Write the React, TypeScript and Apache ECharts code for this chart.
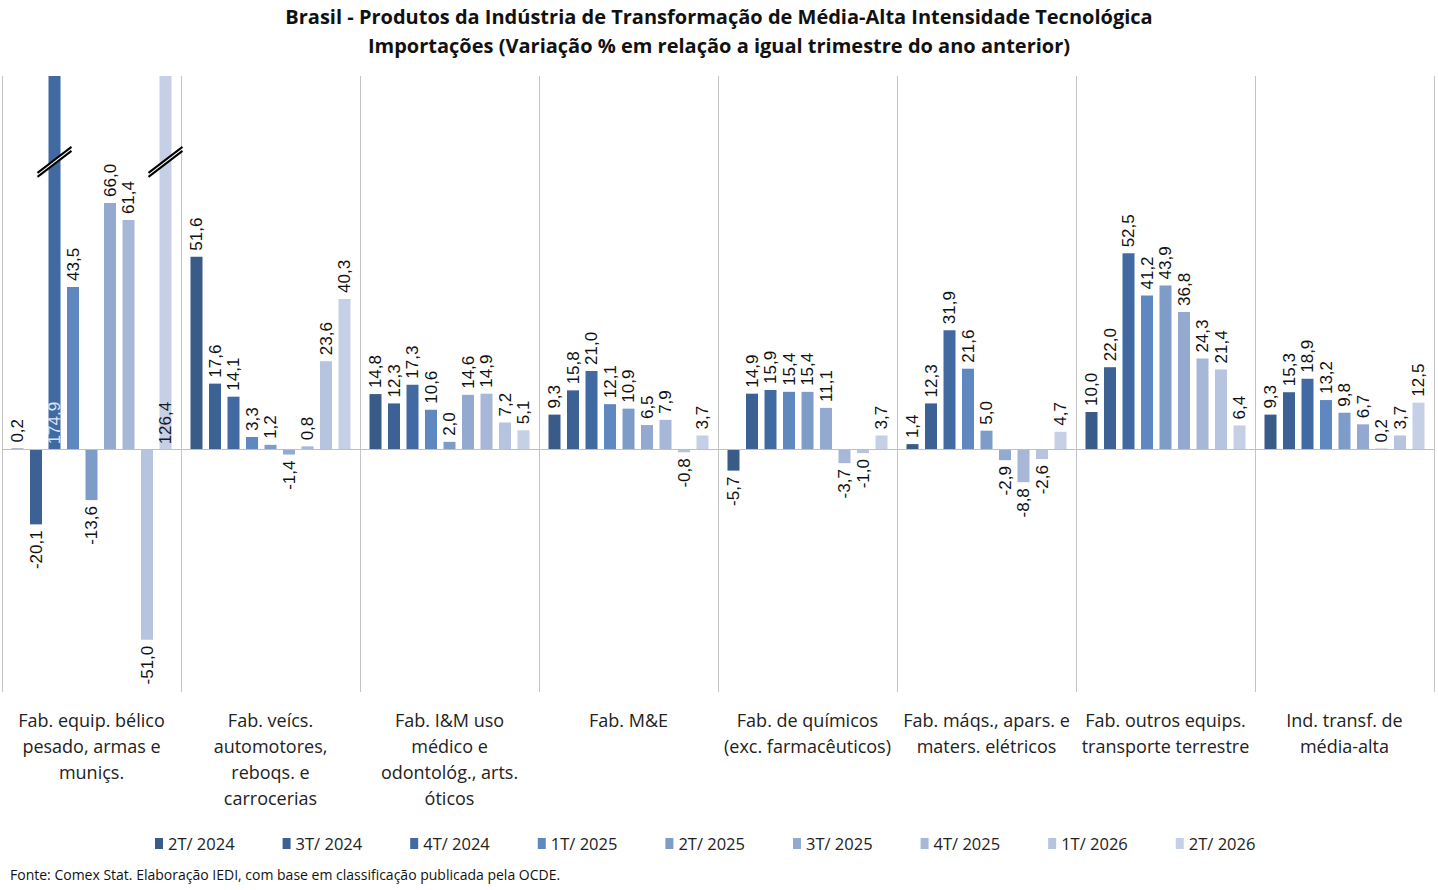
import React, { useEffect, useRef } from "react";
import * as echarts from "echarts";

const categories = [
  "Fab. equip. bélico\npesado, armas e\nmuniçs.",
  "Fab. veícs.\nautomotores,\nreboqs. e\ncarrocerias",
  "Fab. I&M uso\nmédico e\nodontológ., arts.\nóticos",
  "Fab. M&E",
  "Fab. de químicos\n(exc. farmacêuticos)",
  "Fab. máqs., apars. e\nmaters. elétricos",
  "Fab. outros equips.\ntransporte terrestre",
  "Ind. transf. de\nmédia-alta",
];

const seriesNames = [
  "2T/ 2024",
  "3T/ 2024",
  "4T/ 2024",
  "1T/ 2025",
  "2T/ 2025",
  "3T/ 2025",
  "4T/ 2025",
  "1T/ 2026",
  "2T/ 2026",
];

const q2_2024 = [0.2, 51.6, 14.8, 9.3, -5.7, 1.4, 10.0, 9.3];
const q3_2024 = [-20.1, 17.6, 12.3, 15.8, 14.9, 12.3, 22.0, 15.3];
const q4_2024 = [174.9, 14.1, 17.3, 21.0, 15.9, 31.9, 52.5, 18.9];
const q1_2025 = [43.5, 3.3, 10.6, 12.1, 15.4, 21.6, 41.2, 13.2];
const q2_2025 = [-13.6, 1.2, 2.0, 10.9, 15.4, 5.0, 43.9, 9.8];
const q3_2025 = [66.0, -1.4, 14.6, 6.5, 11.1, -2.9, 36.8, 6.7];
const q4_2025 = [61.4, 0.8, 14.9, 7.9, -3.7, -8.8, 24.3, 0.2];
const q1_2026 = [-51.0, 23.6, 7.2, -0.8, -1.0, -2.6, 21.4, 3.7];
const q2_2026 = [126.4, 40.3, 5.1, 3.7, 3.7, 4.7, 6.4, 12.5];

const seriesValues = [q2_2024, q3_2024, q4_2024, q1_2025, q2_2025, q3_2025, q4_2025, q1_2026, q2_2026];

const colors = [
  "#385b87",
  "#3c6295",
  "#416aa3",
  "#5f88c1",
  "#7e9cc8",
  "#94a9d0",
  "#a7b7d8",
  "#b7c4e0",
  "#c5cfe5",
];

const Y_MIN = -65;
const Y_MAX = 100;

const TITLE_1 = "Brasil - Produtos da Indústria de Transformação de Média-Alta Intensidade Tecnológica";
const TITLE_2 = "Importações (Variação % em relação a igual trimestre do ano anterior)";
const SOURCE = "Fonte: Comex Stat. Elaboração IEDI, com base em classificação publicada pela OCDE.";

const FONT = "'Open Sans', 'Noto Sans', sans-serif";
const LABEL_FONT = "'Liberation Sans', Arial, sans-serif";

const BAR_WIDTH = 12;
const BAR_GAP_PX = 6.5;

const fmt = (v: number) => v.toFixed(1).replace(".", ",");

export default function App() {
  const ref = useRef<HTMLDivElement>(null);

  useEffect(() => {
    if (!ref.current) return;
    const chart = echarts.init(ref.current, undefined, { renderer: "svg" });

    const series = seriesValues.map((vals, si) => ({
      name: seriesNames[si],
      type: "bar",
      barWidth: BAR_WIDTH,
      barGap: `${(BAR_GAP_PX / BAR_WIDTH) * 100}%`,
      clip: true,
      itemStyle: { color: colors[si] },
      data: vals.map((v) => {
        const clipped = v > Y_MAX;
        return {
          value: v,
          label: clipped
            ? {
                position: "insideBottom",
                align: "left",
                verticalAlign: "middle",
                distance: 5,
                color: si < 4 ? "#dde5f1" : "#1a1a1a",
              }
            : v < 0
            ? { position: "bottom", align: "right", verticalAlign: "middle", distance: 6 }
            : { position: "top", align: "left", verticalAlign: "middle", distance: 6 },
        };
      }),
      label: {
        show: true,
        rotate: 90,
        fontSize: 17,
        fontFamily: LABEL_FONT,
        color: "#111",
        formatter: (p: any) => fmt(p.value),
      },
      markLine:
        si === 0
          ? {
              silent: true,
              symbol: "none",
              label: { show: false },
              lineStyle: { color: "#bfbfbf", width: 1, type: "solid" },
              data: [{ yAxis: 0 }],
            }
          : undefined,
    }));

    const baseGraphic: any[] = [
      {
        type: "text",
        left: "center",
        top: 6,
        style: { text: TITLE_1, font: `bold 20px ${FONT}`, fill: "#111" },
      },
      {
        type: "text",
        left: "center",
        top: 35,
        style: { text: TITLE_2, font: `bold 20px ${FONT}`, fill: "#111" },
      },
      {
        type: "text",
        left: 10,
        top: 867,
        style: { text: SOURCE, font: `14px ${FONT}`, fill: "#111" },
      },
    ];

    chart.setOption({
      animation: false,
      backgroundColor: "#ffffff",
      color: colors,
      grid: { left: 2, right: 4, top: 76, bottom: 198, containLabel: false },
      legend: {
        data: seriesNames,
        left: 150,
        top: 830,
        icon: "rect",
        itemWidth: 8,
        itemHeight: 11,
        itemGap: 48,
        textStyle: { fontSize: 16.5, fontFamily: FONT, color: "#222" },
      },
      xAxis: {
        type: "category",
        data: categories,
        axisLine: { show: false, onZero: false },
        axisTick: { show: false },
        splitLine: { show: true, lineStyle: { color: "#c4c4c4", width: 1 } },
        axisLabel: {
          interval: 0,
          fontSize: 18,
          lineHeight: 26,
          margin: 15,
          color: "#222",
          fontFamily: FONT,
        },
      },
      yAxis: { type: "value", min: Y_MIN, max: Y_MAX, show: false },
      series,
      graphic: baseGraphic,
    });

    // Axis-break marks on clipped bars
    const breaks: any[] = [];
    const pitch = BAR_WIDTH + BAR_GAP_PX;
    seriesValues.forEach((vals, si) => {
      vals.forEach((v, ci) => {
        if (v > Y_MAX) {
          const p = chart.convertToPixel({ xAxisIndex: 0, yAxisIndex: 0 }, [ci, 77]) as number[];
          const cx = p[0] + (si - 4) * pitch;
          const cy = p[1];
          breaks.push({
            type: "polygon",
            shape: {
              points: [
                [cx - 17, cy + 11],
                [cx + 17, cy - 15],
                [cx + 17, cy - 11],
                [cx - 17, cy + 15],
              ],
            },
            style: { fill: "#ffffff" },
            z: 100,
          });
          breaks.push({
            type: "line",
            shape: { x1: cx - 17, y1: cy + 11, x2: cx + 17, y2: cy - 15 },
            style: { stroke: "#000", lineWidth: 2 },
            z: 101,
          });
          breaks.push({
            type: "line",
            shape: { x1: cx - 17, y1: cy + 15, x2: cx + 17, y2: cy - 11 },
            style: { stroke: "#000", lineWidth: 2 },
            z: 101,
          });
        }
      });
    });
    chart.setOption({ graphic: [...baseGraphic, ...breaks] }, { replaceMerge: ["graphic"] });

    return () => chart.dispose();
  }, []);

  return (
    <div
      ref={ref}
      style={{ position: "fixed", left: 0, top: 0, width: 1438, height: 890, background: "#fff" }}
    />
  );
}
